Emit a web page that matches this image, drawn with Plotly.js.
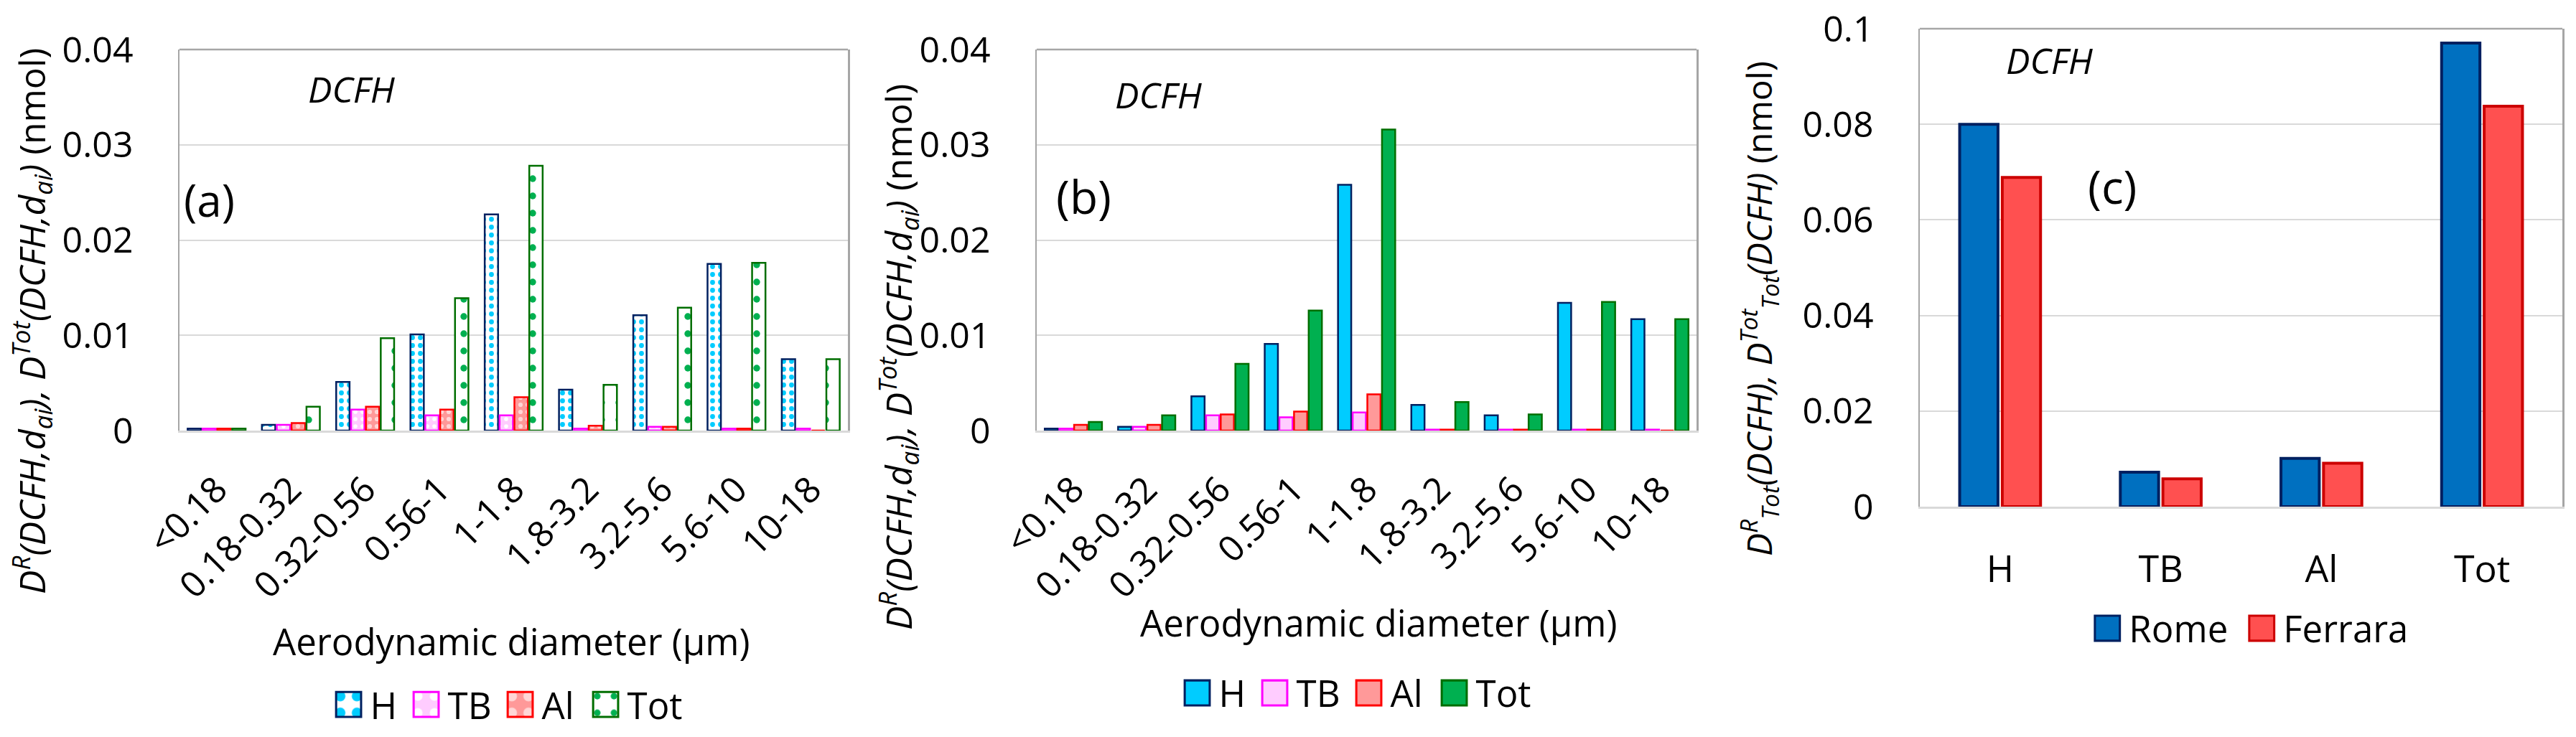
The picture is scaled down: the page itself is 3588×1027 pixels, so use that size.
<!DOCTYPE html>
<html>
<head>
<meta charset="utf-8">
<script src="https://cdn.plot.ly/plotly-3.0.1.min.js"></script>
<style>
  body { margin: 0; background: #fff; }
  .panel { position: absolute; top: 0; height: 1027px; }
  #panelA { left: 0; width: 1190px; }
  #panelB { left: 1190px; width: 1210px; }
  #panelC { left: 2400px; width: 1188px; }
</style>
</head>
<body>
<div id="panelA" class="panel"></div>
<div id="panelB" class="panel"></div>
<div id="panelC" class="panel"></div>
<script>
// size classes (aerodynamic diameter, um)
var sizeBins = ['<0.18', '0.18-0.32', '0.32-0.56', '0.56-1', '1-1.8', '1.8-3.2', '3.2-5.6', '5.6-10', '10-18'];

// (a) Rome, deposited dose per size class
var romeH   = [0.0002, 0.0006, 0.0051, 0.0101, 0.0227, 0.0043, 0.0121, 0.0175, 0.0075];
var romeTB  = [0.0002, 0.0006, 0.0022, 0.0016, 0.0016, 0.0002, 0.0004, 0.0002, 0.0002];
var romeAl  = [0.0002, 0.0008, 0.0025, 0.0022, 0.0035, 0.0005, 0.0004, 0.0002, 0];
var romeTot = [0.0002, 0.0025, 0.0097, 0.0139, 0.0278, 0.0048, 0.0129, 0.0176, 0.0075];

// (b) Ferrara
var ferH   = [0.0002, 0.0004, 0.0036, 0.0091, 0.0258, 0.0027, 0.0016, 0.0134, 0.0117];
var ferTB  = [0.0002, 0.0004, 0.0016, 0.0014, 0.0019, 0.0001, 0.0001, 0.0001, 0.0001];
var ferAl  = [0.0006, 0.0006, 0.0017, 0.0020, 0.0038, 0.0001, 0.0001, 0.0001, 0];
var ferTot = [0.0009, 0.0016, 0.0070, 0.0126, 0.0316, 0.0030, 0.0017, 0.0135, 0.0117];

// (c) totals per region
var regions = ['H', 'TB', 'Al', 'Tot'];
var romeRegion = [0.080, 0.0072, 0.0101, 0.097];
var ferraraRegion = [0.0689, 0.0058, 0.0091, 0.0838];

var FONT = 'Open Sans, sans-serif';
var seriesNames = ['H', 'TB', 'Al', 'Tot'];
var lineColors = ['#002060', '#FF00FF', '#FF0000', '#006E00'];
var itemWidths = [43, 66, 54, 74];

// patterned fills for Rome, solid fills for Ferrara
var patA = [
  {shape: '.', bgcolor: '#FFFFFF', fgcolor: '#00CCFF', size: 11, solidity: 0.3},
  {shape: '.', bgcolor: '#FFCCFF', fgcolor: '#FFFFFF', size: 10, solidity: 0.25},
  {shape: '.', bgcolor: '#FF9999', fgcolor: '#FFD6D6', size: 10, solidity: 0.3},
  {shape: '.', bgcolor: '#FFFFFF', fgcolor: '#00B050', size: 24, solidity: 0.12}
];
var fillB = ['#00CCFF', '#FFCCFF', '#FF9999', '#00B050'];

function sizeTraces(values, patterned) {
  return values.map(function (v, i) {
    var marker = {line: {color: lineColors[i], width: 2.5}};
    if (patterned) {
      marker.color = patA[i].bgcolor;
      marker.pattern = patA[i];
    } else {
      marker.color = fillB[i];
    }
    return {type: 'bar', x: sizeBins, y: v, name: seriesNames[i], marker: marker, legendwidth: itemWidths[i]};
  });
}

var tickFont = {family: FONT, size: 50, color: '#000'};

function sizeLayout(marginL, marginR, legendX, legendY, labels) {
  return {
    width: marginL === 250 ? 1190 : 1210,
    height: 1027,
    margin: {l: marginL, r: marginR, t: 69, b: 427, autoexpand: false},
    paper_bgcolor: '#fff',
    plot_bgcolor: '#fff',
    barmode: 'group',
    bargap: 0.2,
    bargroupgap: 0.1,
    showlegend: true,
    legend: {
      orientation: 'h', x: legendX, y: legendY, xanchor: 'center', yanchor: 'middle',
      font: {family: FONT, size: 51, color: '#000'}, itemwidth: 50, traceorder: 'normal'
    },
    xaxis: {
      type: 'category', tickangle: -45, tickfont: tickFont, ticks: '', ticklabelstandoff: 30,
      showline: true, linecolor: '#D9D9D9', linewidth: 2.5, showgrid: false
    },
    yaxis: {
      range: [0, 0.04], dtick: 0.01, tickfont: tickFont, ticks: '', ticklabelstandoff: 52,
      showgrid: true, gridcolor: '#D9D9D9', gridwidth: 2, zeroline: false,
      showline: true, mirror: true, linecolor: '#A6A6A6', linewidth: 2.5
    },
    shapes: [{type: 'line', xref: 'paper', yref: 'paper', x0: 0, x1: 1, y0: 1, y1: 1,
      line: {color: '#A6A6A6', width: 2.5}}],
    annotations: labels
  };
}

var sizeTitle = '<i>D<sup>R</sup>(DCFH,d<sub>ai</sub>), D<sup>Tot</sup>(DCFH,d<sub>ai</sub>)</i> (nmol)';

function note(text, x, y, size, angle) {
  return {text: text, x: x, y: y, xref: 'paper', yref: 'paper', showarrow: false,
    xanchor: 'center', yanchor: 'middle', textangle: angle || 0,
    font: {family: FONT, size: size, color: '#000'}};
}

var layoutA = sizeLayout(250, 9, 0.4877, -0.7194, [
  note('<i>DCFH</i>', 0.2578, 0.8964, 50),
  note('(a)', 0.0451, 0.6064, 62),
  note(sizeTitle, -0.2213, 0.2881, 50, -90),
  note('Aerodynamic diameter (µm)', 0.4973, -0.5518, 51)
]);
var layoutB = sizeLayout(254, 37, 0.481, -0.689, [
  note('<i>DCFH</i>', 0.185, 0.881, 50),
  note('(b)', 0.0718, 0.6158, 64),
  note(sizeTitle, -0.21, 0.192, 50, -90),
  note('Aerodynamic diameter (µm)', 0.519, -0.503, 51)
]);

var traceRome = {type: 'bar', x: regions, y: romeRegion, name: 'Rome', legendwidth: 150,
  marker: {color: '#0070C0', line: {color: '#002060', width: 4}}};
var traceFerrara = {type: 'bar', x: regions, y: ferraraRegion, name: 'Ferrara', legendwidth: 165,
  marker: {color: '#FF5050', line: {color: '#CC0000', width: 4}}};

var layoutC = {
  width: 1188,
  height: 1027,
  margin: {l: 274, r: 19, t: 40, b: 321, autoexpand: false},
  paper_bgcolor: '#fff',
  plot_bgcolor: '#fff',
  barmode: 'group',
  bargap: 0.47,
  bargroupgap: 0.1,
  showlegend: true,
  legend: {
    orientation: 'h', x: 0.507, y: -0.255, xanchor: 'center', yanchor: 'middle',
    font: {family: FONT, size: 51, color: '#000'}, itemwidth: 50, traceorder: 'normal'
  },
  xaxis: {
    type: 'category', tickfont: {family: FONT, size: 52, color: '#000'}, ticks: '', ticklabelstandoff: 40,
    showline: true, linecolor: '#D9D9D9', linewidth: 2.5, showgrid: false
  },
  yaxis: {
    range: [0, 0.1], dtick: 0.02, tickfont: tickFont, ticks: '', ticklabelstandoff: 52,
    showgrid: true, gridcolor: '#D9D9D9', gridwidth: 2, zeroline: false,
    showline: true, mirror: true, linecolor: '#A6A6A6', linewidth: 2.5
  },
  shapes: [{type: 'line', xref: 'paper', yref: 'paper', x0: 0, x1: 1, y0: 1, y1: 1,
    line: {color: '#A6A6A6', width: 2.5}}],
  annotations: [
    note('<i>DCFH</i>', 0.2022, 0.934, 50),
    note('(c)', 0.2994, 0.671, 64),
    note('<i>D<sup>R</sup><sub>Tot</sub>(DCFH), D<sup>Tot</sup><sub>Tot</sub>(DCFH)</i> (nmol)', -0.2503, 0.4144, 48, -90)
  ]
};

// legend boxes in the original are ~35px, plotly draws 12px ones
function bigLegendBoxes(gd) {
  gd.querySelectorAll('.legend .legendpoints path').forEach(function (p) {
    p.setAttribute('transform', (p.getAttribute('transform') || '') + ' scale(2.9)');
    p.style.strokeWidth = '1.05px';
  });
}

var config = {staticPlot: true, displayModeBar: false};
Plotly.newPlot('panelA', sizeTraces([romeH, romeTB, romeAl, romeTot], true), layoutA, config).then(bigLegendBoxes);
Plotly.newPlot('panelB', sizeTraces([ferH, ferTB, ferAl, ferTot], false), layoutB, config).then(bigLegendBoxes);
Plotly.newPlot('panelC', [traceRome, traceFerrara], layoutC, config).then(bigLegendBoxes);
</script>
</body>
</html>
